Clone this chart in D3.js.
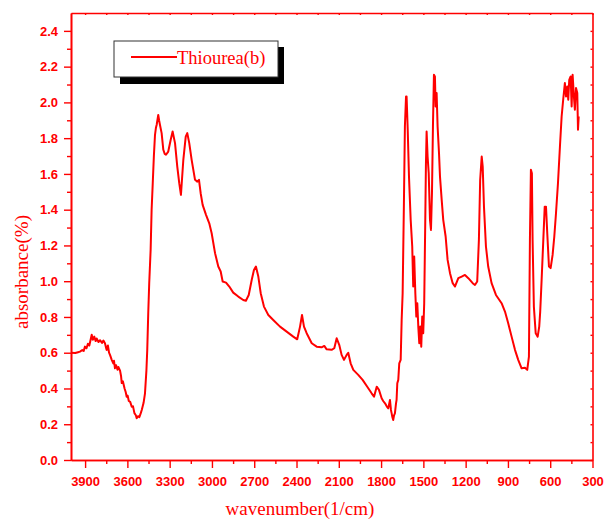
<!DOCTYPE html>
<html lang="en">
<head>
    <meta charset="UTF-8">
    <title>Thiourea(b) IR spectrum</title>
    <script src="https://d3js.org/d3.v7.min.js"></script>
    <style>
        body {
            margin: 0;
            background: white;
        }

        .tick-label {
            font: bold 13px "Liberation Sans", Arial, sans-serif;
            fill: #ff0000;
        }

        .axis-title {
            font: 19px "Liberation Serif", "Times New Roman", serif;
            fill: #ff0000;
        }

        .spectrum {
            fill: none;
            stroke: #ff0000;
            stroke-width: 2px;
            stroke-linejoin: round;
        }
    </style>
</head>
<body>
    <div id="chart"></div>

    <script>
        // wavenumber (1/cm) and absorbance
        const wavenumbers = [
            4000, 3970, 3950, 3936, 3920, 3910, 3901, 3890, 3880, 3870, 3860, 3853, 3845, 3835,
            3825, 3818, 3805, 3794, 3780, 3770, 3759, 3752, 3747, 3738, 3730, 3722, 3711, 3700,
            3695, 3688, 3680, 3670, 3664, 3652, 3645, 3640, 3632, 3620, 3612, 3605, 3598, 3590,
            3580, 3569, 3560, 3550, 3540, 3534, 3525, 3515, 3505, 3498, 3485, 3475, 3465, 3459,
            3452, 3445, 3435, 3428, 3420, 3412, 3404, 3397, 3392, 3381, 3375, 3369, 3357, 3345,
            3335, 3326, 3310, 3293, 3279, 3262, 3246, 3232, 3220, 3203, 3186, 3175, 3161, 3144,
            3120, 3104, 3092, 3080, 3066, 3042, 3019, 3002, 2978, 2955, 2938, 2924, 2900, 2877,
            2849, 2813, 2778, 2759, 2739, 2718, 2702, 2688, 2671, 2654, 2631, 2600, 2565, 2517,
            2470, 2423, 2395, 2375, 2361, 2347, 2328, 2292, 2257, 2222, 2203, 2186, 2151, 2132,
            2115, 2097, 2080, 2063, 2044, 2033, 2016, 1997, 1962, 1931, 1898, 1867, 1850, 1831,
            1815, 1796, 1785, 1772, 1760, 1749, 1737, 1730, 1725, 1720, 1714, 1708, 1702, 1694,
            1690, 1685, 1678, 1671, 1661, 1654, 1647, 1638, 1631, 1623, 1619, 1611, 1602, 1590,
            1579, 1572, 1565, 1557, 1550, 1543, 1536, 1529, 1522, 1515, 1508, 1501, 1494, 1487,
            1482, 1477, 1470, 1462, 1453, 1446, 1439, 1432, 1425, 1418, 1413, 1406, 1399, 1389,
            1382, 1370, 1359, 1342, 1328, 1311, 1292, 1276, 1252, 1228, 1205, 1181, 1150, 1134,
            1118, 1106, 1097, 1086, 1079, 1070, 1056, 1040, 1016, 985, 945, 921, 898, 874,
            850, 827, 803, 779, 763, 751, 744, 737, 730, 725, 716, 703, 689, 678,
            671, 661, 649, 639, 630, 621, 609, 597, 583, 571, 559, 545, 531, 519,
            508, 496, 488, 479, 472, 465, 455, 448, 441, 432, 425, 417, 408, 403, 398
        ];
        const absorbance = [
            0.600, 0.598, 0.603, 0.606, 0.615, 0.610, 0.634, 0.625, 0.650, 0.640, 0.675, 0.700, 0.672, 0.690,
            0.665, 0.680, 0.660, 0.670, 0.655, 0.668, 0.653, 0.630, 0.616, 0.640, 0.600, 0.585, 0.560, 0.540,
            0.555, 0.513, 0.530, 0.505, 0.520, 0.500, 0.470, 0.430, 0.440, 0.400, 0.380, 0.354, 0.360, 0.330,
            0.325, 0.298, 0.300, 0.262, 0.250, 0.233, 0.245, 0.240, 0.262, 0.280, 0.320, 0.373, 0.500, 0.616,
            0.820, 0.990, 1.175, 1.400, 1.548, 1.700, 1.819, 1.860, 1.875, 1.930, 1.900, 1.875, 1.828, 1.735,
            1.712, 1.707, 1.725, 1.790, 1.837, 1.772, 1.641, 1.548, 1.483, 1.679, 1.809, 1.828, 1.772, 1.679,
            1.567, 1.557, 1.567, 1.492, 1.427, 1.371, 1.324, 1.268, 1.157, 1.082, 1.054, 0.998, 0.992, 0.970,
            0.936, 0.914, 0.895, 0.891, 0.923, 1.007, 1.063, 1.082, 1.026, 0.933, 0.858, 0.811, 0.783, 0.746,
            0.718, 0.690, 0.675, 0.746, 0.811, 0.746, 0.709, 0.653, 0.634, 0.630, 0.638, 0.619, 0.616, 0.625,
            0.681, 0.644, 0.588, 0.560, 0.588, 0.600, 0.541, 0.504, 0.476, 0.448, 0.410, 0.373, 0.354, 0.410,
            0.392, 0.345, 0.330, 0.317, 0.300, 0.289, 0.336, 0.280, 0.261, 0.240, 0.224, 0.250, 0.261, 0.317,
            0.336, 0.429, 0.448, 0.541, 0.560, 0.783, 0.933, 1.436, 1.865, 2.033, 2.033, 1.847, 1.585, 1.343,
            1.194, 0.970, 1.138, 0.933, 0.802, 0.877, 0.746, 0.653, 0.746, 0.634, 0.802, 0.709, 0.877, 1.306,
            1.641, 1.837, 1.697, 1.604, 1.343, 1.287, 1.492, 1.865, 2.154, 2.145, 1.977, 2.052, 1.865, 1.716,
            1.585, 1.455, 1.343, 1.250, 1.119, 1.045, 0.989, 0.970, 1.017, 1.026, 1.035, 1.017, 0.989, 0.979,
            0.998, 1.231, 1.567, 1.697, 1.641, 1.417, 1.194, 1.082, 0.989, 0.923, 0.877, 0.830, 0.765, 0.690,
            0.616, 0.560, 0.513, 0.516, 0.504, 0.578, 1.231, 1.623, 1.604, 1.231, 0.858, 0.709, 0.690, 0.746,
            0.830, 1.007, 1.231, 1.417, 1.417, 1.268, 1.082, 1.073, 1.147, 1.250, 1.380, 1.548, 1.753, 1.921,
            2.015, 2.108, 2.033, 2.089, 2.015, 2.126, 2.145, 1.977, 2.154, 2.033, 1.959, 2.080, 2.052, 1.847, 1.921
        ];

        const xTickValues = [3900, 3600, 3300, 3000, 2700, 2400, 2100, 1800, 1500, 1200, 900, 600, 300];
        const xMinorValues = [3750, 3450, 3150, 2850, 2550, 2250, 1950, 1650, 1350, 1050, 750, 450];
        const yTickValues = [0, 0.2, 0.4, 0.6, 0.8, 1.0, 1.2, 1.4, 1.6, 1.8, 2.0, 2.2, 2.4];
        const yMinorValues = [0.1, 0.3, 0.5, 0.7, 0.9, 1.1, 1.3, 1.5, 1.7, 1.9, 2.1, 2.3];
        const seriesName = "Thiourea(b)";

        const width = 606;
        const height = 522;
        const red = "#ff0000";

        const svg = d3.select("#chart")
            .append("svg")
            .attr("width", width)
            .attr("height", height);

        const x = d3.scaleLinear().domain([4000, 300]).range([71, 592.5]);
        const y = d3.scaleLinear().domain([0, 2.5]).range([460, 13]);

        const points = wavenumbers.map((w, i) => [w, absorbance[i]]);

        // spectrum
        svg.append("path")
            .datum(points)
            .attr("class", "spectrum")
            .attr("d", d3.line()
                .x(d => x(d[0]))
                .y(d => y(d[1])));

        // bottom axis
        const bottomAxis = svg.append("g").attr("transform", `translate(0,${y(0)})`);
        bottomAxis.call(d3.axisBottom(x).tickValues(xTickValues).tickSize(8).tickSizeOuter(0).tickFormat(d3.format("d")));
        bottomAxis.append("g").call(d3.axisBottom(x).tickValues(xMinorValues).tickSize(4).tickSizeOuter(0).tickFormat(""));

        // left axis
        const leftAxis = svg.append("g").attr("transform", `translate(${x(4000)},0)`);
        leftAxis.call(d3.axisLeft(y).tickValues(yTickValues).tickSize(7).tickSizeOuter(0).tickFormat(d3.format(".1f")));
        leftAxis.append("g").call(d3.axisLeft(y).tickValues(yMinorValues).tickSize(4).tickSizeOuter(0).tickFormat(""));

        // top and right frame with small inner ticks
        const topAxis = svg.append("g").attr("transform", `translate(0,${y(2.5)})`);
        topAxis.call(d3.axisBottom(x).tickValues(xTickValues.concat(xMinorValues)).tickSize(2).tickSizeOuter(0).tickFormat(""));
        const rightAxis = svg.append("g").attr("transform", `translate(${x(300)},0)`);
        rightAxis.call(d3.axisLeft(y).tickValues(yTickValues.concat(yMinorValues)).tickSize(2).tickSizeOuter(0).tickFormat(""));

        svg.selectAll(".domain").attr("stroke", red).attr("stroke-width", 1.6);
        svg.selectAll(".tick line").attr("stroke", red).attr("stroke-width", 1.4);
        svg.selectAll(".tick text").attr("class", "tick-label").attr("fill", null);
        bottomAxis.selectAll(".tick text").attr("y", 17);
        leftAxis.selectAll(".tick text").attr("x", -13);

        // axis titles
        svg.append("text")
            .attr("class", "axis-title")
            .attr("x", 300)
            .attr("y", 515)
            .attr("text-anchor", "middle")
            .text("wavenumber(1/cm)");

        svg.append("text")
            .attr("class", "axis-title")
            .attr("transform", "translate(28,272) rotate(-90)")
            .attr("text-anchor", "middle")
            .text("absorbance(%)");

        // legend with drop shadow
        const legend = svg.append("g");
        legend.append("rect")
            .attr("x", 120).attr("y", 47)
            .attr("width", 164).attr("height", 37)
            .attr("fill", "black");
        legend.append("rect")
            .attr("x", 114).attr("y", 41)
            .attr("width", 164).attr("height", 36)
            .attr("fill", "white")
            .attr("stroke", "#333")
            .attr("stroke-width", 1);
        legend.append("line")
            .attr("x1", 131).attr("x2", 177)
            .attr("y1", 57).attr("y2", 57)
            .attr("stroke", red)
            .attr("stroke-width", 2);
        legend.append("text")
            .attr("x", 177)
            .attr("y", 64)
            .style("font", "18.5px 'Liberation Serif', 'Times New Roman', serif")
            .attr("fill", red)
            .text(seriesName);
    </script>
</body>
</html>
